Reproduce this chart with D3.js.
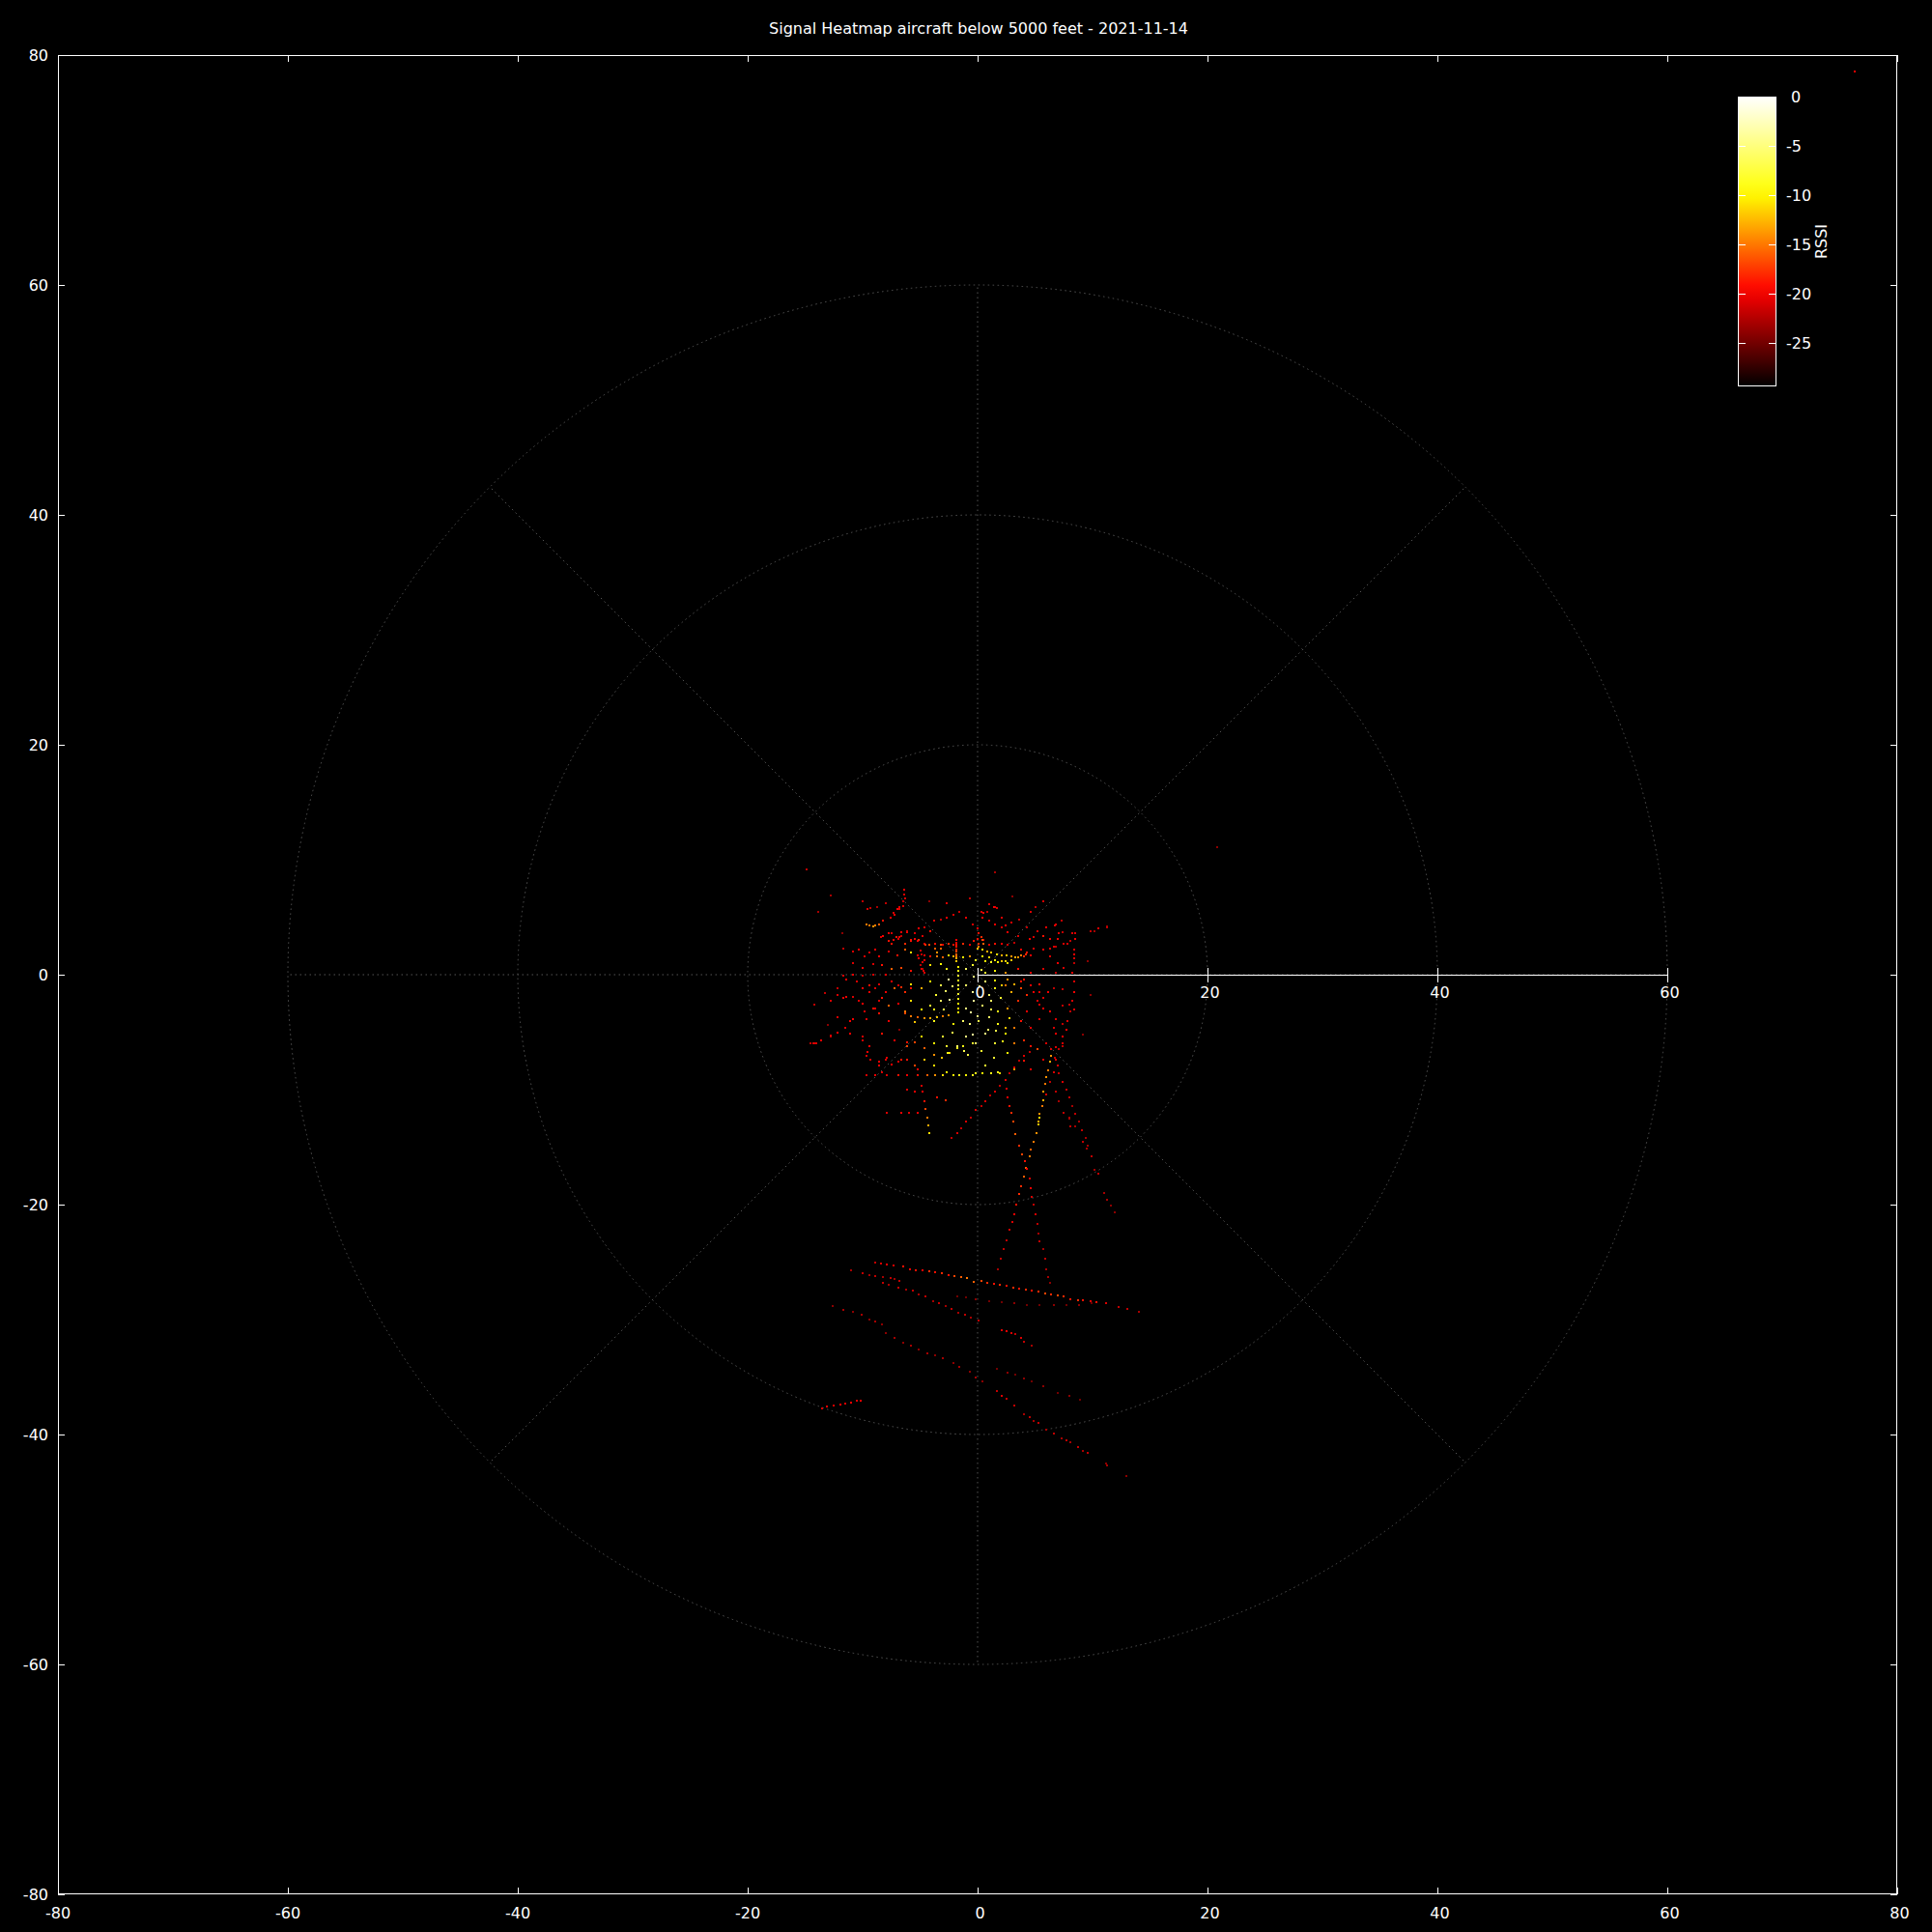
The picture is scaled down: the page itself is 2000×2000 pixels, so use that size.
<!DOCTYPE html>
<html><head><meta charset="utf-8">
<script src="https://cdn.jsdelivr.net/npm/d3@7"></script>
<style>
html,body{margin:0;padding:0;background:#000;}
svg{display:block;}
text{font-family:"DejaVu Sans",sans-serif;font-size:16px;fill:#fff;white-space:pre;}
</style>
</head><body>
<svg id="chart" width="2000" height="2000"></svg>
<script>
const titleText = "Signal Heatmap aircraft below 5000 feet - 2021-11-14";
const cbLabel = "RSSI";
const xTicks = [-80,-60,-40,-20,0,20,40,60,80];
const yTicks = [-80,-60,-40,-20,0,20,40,60,80];
const rTicks = [0,20,40,60];
const gridRadii = [20,40,60];
const spokeAngles = [0,45,90,135,180,225,270,315];
const cbTicks = [0,-5,-10,-15,-20,-25];
const cbRange = [-29.4,0];

// [x, y, rssi]
const centralPings = [
[-6.3,6.6,-21],[-2.7,6.2,-21],[-0.7,6.6,-22],[1.5,5.9,-21],[-10.0,6.4,-22],
[-9.7,4.4,-15],[-9.4,4.3,-15],[-9.1,4.2,-14],[-8.9,4.3,-15],[-8.6,4.4,-16],[-8.2,4.7,-19],[-7.6,5.0,-20],[-7.2,5.2,-20],[-6.8,5.7,-21],[-6.5,6.0,-21],
[-9.3,5.8,-22],[-8.7,5.9,-23],[-8.0,6.2,-22],
[-8.2,3.4,-20],[-7.7,2.9,-19],[-7.3,3.0,-20],[-6.8,3.3,-20],[-6.3,2.7,-18],[-5.8,2.9,-19],[-5.5,3.1,-20],[-5.1,3.0,-18],[-4.6,2.7,-20],[-4.2,2.6,-17],[-3.7,2.7,-19],[-3.2,2.3,-16],[-3.0,2.6,-20],[-2.5,2.7,-18],[-2.1,2.6,-19],
[-1.85,3.0,-20],[-1.85,2.8,-20],[-1.85,2.6,-19],[-1.85,2.4,-19],[-1.85,2.2,-18],[-1.85,2.0,-17],[-1.85,1.8,-16],[-1.85,1.6,-15],[-1.85,1.4,-13],[-1.85,1.2,-12],
[-1.7,0.7,-10],[-1.7,0.3,-9],[-1.7,-0.1,-8],[-1.7,-0.5,-9],[-1.7,-0.9,-7],[-1.7,-1.3,-9],[-1.7,-1.7,-8],[-1.7,-2.1,-9],[-1.7,-2.5,-10],[-1.7,-2.9,-11],[-1.7,-3.3,-10],
[-1.3,2.7,-18],[-0.7,2.6,-20],[-0.3,2.9,-19],[0.1,2.7,-18],[0.5,3.0,-20],[1.0,2.6,-21],[1.5,2.7,-19],[2.1,2.7,-20],[2.6,2.6,-21],[3.2,2.8,-22],[3.8,2.2,-20],[4.3,1.9,-19],[4.9,2.3,-21],[5.7,2.2,-20],[6.3,2.3,-21],[6.8,2.4,-22],[7.5,2.7,-21],[8.1,2.9,-22],
[-6.1,3.7,-20],[-5.5,3.6,-21],[-5.1,4.0,-20],[-4.6,4.1,-21],[-4.1,3.8,-19],[-3.8,4.7,-21],[-3.2,4.8,-22],[-2.7,5.0,-20],[-2.1,5.2,-21],[-1.6,5.5,-22],[-1.0,5.0,-20],[-0.4,4.4,-21],[0.4,5.0,-20],[1.0,4.7,-21],[1.5,4.4,-20],[2.1,4.1,-21],[2.6,3.7,-20],[3.5,3.4,-21],[4.3,4.1,-22],[5.2,3.8,-21],[6.0,4.1,-22],[6.8,4.4,-21],[7.4,3.7,-22],[8.5,3.6,-21],[10.2,3.8,-23],[11.3,4.2,-23],
[-7.5,3.6,-21],[-7.1,3.3,-19],[-6.6,3.4,-22],
[-9.4,1.9,-21],[-8.6,1.6,-20],[-7.7,2.0,-21],[-7.0,1.7,-19],[-6.3,2.2,-16],[-5.8,1.9,-11],[-5.2,1.7,-20],[-4.6,1.3,-20],[-4.1,1.6,-15],[-3.5,1.9,-14],[-3.0,1.5,-16],[-2.5,1.7,-11],[-2.1,1.6,-13],[-1.3,1.5,-10],[-0.7,1.6,-14],[-0.2,1.3,-9],
[0.7,1.2,-10],[1.2,1.1,-9],[1.8,1.1,-10],[2.4,1.2,-11],[2.9,1.3,-12],[3.5,1.5,-14],[4.0,1.6,-18],[4.6,1.7,-20],
[0.0,2.3,-12],[0.4,2.2,-11],[0.8,2.0,-13],[1.2,1.9,-12],[1.7,1.8,-11],[2.1,1.7,-13],[2.5,1.7,-12],[2.9,1.6,-14],[3.3,1.5,-13],[3.8,1.7,-15],[4.2,1.8,-18],[0.4,1.6,-10],[1.0,1.5,-11],[1.5,1.3,-10],[2.1,1.2,-12],[2.6,1.0,-11],
[-5.0,2.1,-21],[-4.9,1.8,-22],[-5.1,1.4,-20],[-4.8,1.1,-21],[-5.0,0.8,-22],[-4.9,0.5,-20],[-4.7,0.3,-21],
[-10.8,1.0,-21],[-10.0,0.6,-20],[-9.1,0.9,-21],[-8.3,0.8,-19],[-7.5,0.5,-16],[-6.6,0.6,-17],[-5.8,0.3,-19],[-4.1,0.8,-11],[-3.2,0.9,-10],[-2.7,0.5,-9],[-1.0,0.5,-6],[-0.4,0.8,-8],[0.7,0.2,-8],[1.5,0.3,-10],[2.4,0.2,-14],[3.5,0.5,-19],[4.6,0.2,-20],[5.7,0.5,-21],[6.8,0.2,-22],
[-13.3,-1.6,-21],[-12.2,-1.2,-22],[-11.4,-0.4,-20],[-10.5,-0.6,-21],[-10.0,-1.2,-20],[-9.4,-0.9,-19],[-8.6,-0.8,-21],[-8.0,-1.5,-20],[-7.2,-1.2,-16],[-6.6,-1.1,-18],[-5.8,-0.8,-11],[-4.9,-1.2,-13],[-4.1,-0.6,-10],[-3.2,-0.9,-7],[-2.5,-0.4,-4],[-1.0,-0.9,-6],[-0.4,-1.5,-4],[0.7,-0.6,-6],[1.5,-1.2,-9],[2.4,-0.9,-15],[2.9,-1.5,-13],[3.8,-0.6,-19],[4.6,-0.9,-20],[5.4,-1.5,-21],[6.6,-1.2,-22],
[-14.2,-2.6,-22],[-12.8,-2.3,-21],[-11.7,-2.0,-20],[-10.8,-1.9,-21],[-10.0,-2.5,-20],[-9.1,-2.9,-19],[-8.6,-2.3,-21],[-7.7,-2.7,-16],[-6.9,-2.5,-20],[-6.3,-3.2,-15],[-5.8,-2.3,-11],[-4.9,-3.0,-10],[-4.1,-2.7,-8],[-3.2,-2.3,-6],[-2.4,-2.2,-4],[-1.0,-2.9,-5],[-0.3,-2.3,-4],[0.4,-2.7,-6],[1.2,-2.3,-6],[1.8,-3.2,-9],[2.6,-2.9,-14],[3.5,-2.3,-18],[4.3,-3.2,-20],[5.4,-2.6,-21],[6.3,-3.2,-20],[7.4,-2.7,-22],
[-12.2,-3.7,-21],[-11.1,-4.0,-20],[-9.7,-3.9,-21],[-8.6,-3.4,-19],[-7.7,-4.0,-20],
[-6.3,-3.4,-17],[-5.8,-3.6,-15],[-5.2,-3.7,-16],[-4.6,-3.8,-14],[-4.1,-3.8,-13],[-3.5,-3.7,-12],[-3.0,-3.6,-15],[-2.5,-3.5,-14],
[-5.5,-4.1,-12],[-3.8,-4.0,-9],[-2.1,-4.3,-10],[-1.3,-4.0,-6],[-0.7,-4.3,-5],[0.1,-4.0,-7],[1.0,-3.7,-6],[1.8,-4.3,-9],[2.4,-4.6,-12],[3.2,-4.6,-15],[3.8,-4.0,-19],[4.6,-4.6,-20],[5.4,-3.9,-21],[6.6,-4.6,-21],[7.4,-4.3,-22],
[-14.2,-6.0,-21],[-12.8,-5.4,-22],[-11.1,-5.1,-20],[-10.0,-5.7,-21],[-9.4,-6.2,-20],[-8.3,-5.1,-19],[-7.2,-5.7,-20],[-6.1,-6.2,-17],[-4.9,-5.4,-11],[-3.8,-6.0,-10],[-2.7,-6.2,-8],[-1.8,-6.2,-6],[-1.0,-5.4,-5],[-0.2,-6.0,-6],[0.7,-5.1,-5],[1.5,-6.0,-8],[2.4,-5.1,-10],[3.2,-6.0,-15],[4.0,-5.7,-18],[4.6,-6.2,-19],[5.2,-6.5,-17],[6.0,-6.0,-21],[6.8,-5.1,-20],[7.4,-6.2,-22],
[-9.7,-7.1,-21],[-8.6,-7.9,-20],[-8.0,-7.4,-21],[-6.6,-7.4,-19],[-5.5,-7.9,-17],[-4.6,-7.4,-12],[-3.8,-7.9,-11],[-2.7,-8.5,-10],[-0.2,-8.6,-9],[0.7,-7.9,-8],[1.8,-8.5,-9],[3.2,-8.2,-14],[4.0,-7.5,-19],[4.6,-8.2,-20],[5.7,-7.4,-21],[6.6,-8.5,-20],
[-9.7,-8.7,-21],[-8.9,-8.7,-20],[-7.9,-8.7,-21],[-6.9,-8.7,-19],[-6.1,-8.7,-20],[-5.2,-8.7,-19],[-4.4,-8.7,-16],[-3.7,-8.7,-14],[-3.0,-8.7,-11],[-2.1,-8.7,-10],[-1.6,-8.7,-9],[-1.0,-8.7,-10],[-0.4,-8.7,-9],[0.4,-8.6,-10],[1.2,-8.6,-9],[1.9,-8.6,-11],
[6.3,1.6,-21],[7.0,1.0,-20],[7.5,0.6,-21],[8.2,0.2,-20],[8.4,-0.6,-21],[8.4,-1.5,-20],[8.2,-2.3,-21],[8.1,-3.2,-22],[7.8,-4.0,-21],[7.7,-4.8,-20],[7.4,-6.0,-21],[7.1,-6.5,-22],[6.8,-7.4,-21],[6.6,-8.5,-21],[6.3,-9.3,-22],[6.0,-10.4,-21],
[8.4,2.2,-21],[8.4,1.8,-20],[8.4,1.4,-21],[8.4,1.0,-22],
[-13.9,5.5,-23],[-12.8,6.9,-23],[-10.0,6.4,-22],[-9.6,5.7,-21],[-7.3,5.4,-21],[-7.0,5.7,-20],[-6.8,5.9,-21],[-6.5,6.4,-22],[-6.3,6.6,-21],[-6.4,7.0,-21],[-6.4,7.4,-20],
[-11.7,2.3,-22],[-10.8,2.0,-21],[-10.3,2.2,-20],[-9.8,1.6,-21],[-8.9,2.2,-20],[-8.4,3.3,-21],[-7.7,3.6,-20],[-7.5,2.7,-19],[-6.9,3.1,-21],[-6.6,3.7,-20],[-6.1,3.8,-21],[-5.8,3.0,-19],[-5.2,2.9,-20],[-4.8,3.4,-21],[-4.5,2.6,-18],[-3.7,2.3,-16],[-3.2,2.6,-17],[-4.6,1.7,-20],[-4.8,0.5,-22],[-4.6,0.2,-21],[-4.1,1.6,-19],[-3.5,1.6,-15],
[-11.7,-0.1,-21],[-10.8,0.0,-20],[-10.0,-0.1,-22],[-9.1,0.0,-21],[-8.0,0.0,-20],
[-13.3,-1.6,-22],[-12.2,-1.8,-21],[-11.4,-1.9,-20],[-10.3,-2.3,-21],[-9.4,-1.5,-20],[-8.9,-1.2,-21],[-8.3,-2.0,-19],[-7.5,-0.6,-20],[-6.9,-0.9,-21],[-6.3,-1.5,-18],[-5.8,-1.2,-19],
[1.5,8.9,-23],[1.0,6.1,-21],[1.4,5.9,-20],[1.7,5.8,-21],[0.3,5.5,-21],[0.5,5.4,-20],[0.8,5.5,-22],[2.1,5.0,-21],[2.4,4.3,-20],[2.9,4.5,-21],[3.6,4.8,-22],[4.6,5.5,-21],[5.0,5.9,-22],[5.7,6.4,-21],
[4.5,3.1,-20],[4.9,3.3,-21],[5.7,3.4,-19],[6.3,3.1,-20],[6.6,2.4,-21],[7.0,3.1,-20],[7.1,3.6,-21],[7.3,4.7,-22],[6.7,4.3,-21],[6.0,4.1,-20],[8.2,3.6,-21],[8.5,3.1,-20],[9.8,3.8,-22],[10.5,4.0,-21],[11.3,4.1,-22],[7.8,2.7,-21],
[0.0,4.0,-20],[0.1,3.6,-19],[0.3,3.3,-18],[0.4,3.0,-17],[0.0,3.1,-19],[0.5,2.7,-16],[0.1,2.4,-15],
[1.5,-0.5,-10],[2.1,-0.9,-12],[2.6,-0.4,-14],[3.2,-0.8,-13],[3.8,-1.2,-17],[4.0,-0.4,-19],[4.3,-1.8,-18],[4.9,-1.5,-20],[5.4,-0.8,-19],[5.7,-2.0,-21],[6.1,-1.5,-20],[7.4,-1.3,-22],
[0.2,-1.0,-5],[1.0,-1.8,-6],[-0.6,-3.3,-4],[0.9,-4.8,-6],[2.0,-2.0,-8],[-2.8,-1.4,-6],[-0.8,-7.0,-7],[1.4,-7.2,-8],[2.6,-6.8,-10],[-2.2,-5.0,-7],[0.3,0.4,-7],[-0.3,-0.2,-5],
[-2.9,-3.0,-7],[-3.6,-1.8,-8],[-2.2,-1.0,-6],[0.0,-3.6,-5],[1.6,-4.9,-7],[-0.4,-5.2,-4],[-1.2,-6.6,-7],[0.3,-6.6,-8],[2.2,-5.8,-9],[-3.0,-5.4,-8],[-2.6,-6.8,-9],[1.2,-3.0,-7],[2.8,-3.8,-11],[-3.8,-3.0,-9],
[-6.8,-4.8,-24],[-11.8,3.6,-24],[9.6,1.2,-24],[9.2,-5.2,-24],[-13.0,-4.4,-24],[3.0,6.8,-24],[-4.2,6.4,-24],[9.8,-1.8,-24]
];

const southPings = [
[-7.9,-12.0,-21],[-6.6,-12.0,-20],[-6.0,-12.0,-21],[-5.2,-12.0,-20],
[-4.9,-9.7,-21],[-4.8,-10.2,-20],[-4.6,-11.0,-19],[-4.5,-11.7,-17],[-4.4,-12.4,-15],[-4.3,-13.1,-13],[-4.2,-13.8,-11],
[-14.3,-6.0,-21],[-13.6,-5.7,-20],[-12.8,-5.3,-21],[-12.2,-5.0,-20],[-11.5,-4.6,-21],[-10.8,-3.9,-20],[-9.8,-3.2,-21],[-8.9,-2.9,-20],[-14.5,-6.0,-22],[-14.0,-6.0,-21],
[-10.0,-5.4,-21],[-9.6,-6.7,-20],[-9.3,-7.4,-21],[-8.6,-7.6,-20],[-8.3,-8.5,-21],[-7.9,-7.2,-21],[-7.5,-7.8,-20],[-6.9,-7.6,-21],[-6.1,-7.4,-19],[-5.2,-8.2,-20],[-6.1,-10.0,-21],[-5.5,-10.2,-20],[-3.5,-10.7,-19],[-2.8,-10.9,-18],[-6.1,-5.9,-19],[-5.5,-5.9,-17],[-4.6,-6.4,-16],[-3.8,-7.0,-14],[-3.1,-7.2,-12],[-2.4,-6.8,-11],[-1.8,-6.4,-9],[-1.3,-6.2,-9],[-0.4,-6.0,-8],
[-2.3,-14.2,-22],[-1.8,-13.8,-21],[-1.4,-13.4,-22],[-1.0,-12.8,-21],[-0.6,-12.4,-22],[-0.2,-11.8,-21],[0.3,-11.4,-22],[0.7,-11.0,-21],[1.1,-10.5,-22],[1.5,-10.2,-21],[1.9,-9.7,-22],[2.4,-9.2,-21],[2.8,-8.6,-22],[3.2,-8.1,-21],[3.6,-7.5,-22],[4.0,-7.1,-21],[4.5,-6.7,-22],
[6.4,-7.1,-14],[6.3,-7.6,-13],[6.1,-8.3,-15],[6.0,-8.9,-14],[5.9,-9.5,-15],[5.7,-10.2,-14],[5.7,-10.9,-13],[5.6,-11.4,-15],[5.4,-12.1,-14],[5.3,-12.8,-13],
[5.4,-12.4,-11],[5.3,-13.0,-12],[5.1,-13.8,-14],[4.9,-14.5,-15],[4.6,-15.2,-16],[4.5,-15.8,-15],[4.2,-16.8,-16],[4.0,-17.6,-16],[3.8,-18.4,-18],[3.6,-19.1,-18],[3.4,-20.0,-19],[3.2,-20.8,-20],[3.0,-21.5,-21],[2.8,-22.2,-21],[2.5,-23.1,-22],[2.3,-23.9,-22],[2.0,-24.7,-22],[1.8,-25.6,-23],
[2.5,-9.9,-21],[2.6,-10.7,-20],[2.8,-11.4,-19],[2.9,-12.0,-18],[3.1,-12.8,-17],[3.3,-13.9,-16],[3.6,-14.9,-18],[3.9,-15.6,-17],[4.1,-16.2,-19],[4.3,-16.9,-20],[4.5,-17.7,-21],[4.6,-18.6,-20],[4.7,-19.3,-21],[4.9,-20.0,-22],[5.0,-20.8,-21],[5.2,-21.7,-22],[5.3,-22.5,-23],[5.4,-23.2,-22],[5.7,-23.9,-23],[5.9,-24.7,-22],[6.0,-25.6,-23],[6.1,-26.3,-23],[6.3,-26.8,-24],
[6.4,-6.5,-21],[6.7,-7.2,-22],[7.0,-7.9,-21],[7.1,-8.6,-22],[7.4,-9.3,-21],[7.7,-10.0,-22],[8.0,-10.7,-22],[8.2,-11.4,-23],[8.5,-12.1,-22],[8.8,-12.8,-23],[9.1,-13.5,-22],[9.4,-14.2,-23],[9.6,-14.9,-23],[9.9,-15.8,-22],[10.2,-17.0,-23],[10.5,-17.3,-22],[11.0,-19.0,-23],[11.3,-19.6,-23],[11.6,-20.1,-24],[11.9,-20.7,-24],
[6.8,-6.3,-21],[8.0,-12.4,-23],[6.8,-10.2,-22],[7.1,-11.0,-23],
[5.2,-2.3,-21],[5.7,-2.9,-20],[6.8,-3.9,-21],[7.4,-5.4,-20],[8.0,-2.6,-22],[8.4,-3.0,-21],
[7.5,-12.0,-22],[8.0,-12.5,-23],[8.1,-13.2,-22],[8.5,-13.2,-23],[9.2,-14.5,-22],[9.5,-15.1,-23]
];

const farPings = [
[-8.9,-25.0,-22],[-8.4,-25.1,-21],[-7.9,-25.2,-20],[-7.3,-25.3,-21],[-6.5,-25.4,-19],[-5.9,-25.6,-20],[-5.4,-25.7,-19],[-4.8,-25.7,-20],[-4.2,-25.8,-18],[-3.7,-25.9,-19],[-3.1,-26.0,-18],[-2.5,-26.1,-19],[-2.0,-26.2,-17],[-1.4,-26.3,-16],[-0.9,-26.4,-15],[-0.3,-26.7,-16],[0.3,-26.6,-17],[0.8,-26.8,-18],[1.4,-26.9,-19],[1.9,-27.0,-18],[2.5,-27.1,-19],[3.1,-27.2,-18],[3.6,-27.3,-19],[4.2,-27.4,-18],[4.7,-27.5,-19],[5.3,-27.6,-18],[5.9,-27.7,-17],[6.4,-27.8,-18],[7.0,-27.9,-17],[7.5,-28.0,-18],[8.1,-28.2,-19],[8.7,-28.3,-18],[9.2,-28.3,-19],[9.8,-28.4,-20],[10.3,-28.5,-19],[11.2,-28.6,-21],[12.3,-28.9,-22],[13.0,-29.1,-22],[14.0,-29.3,-23],
[-11.0,-25.7,-23],[-10.0,-26.0,-22],[-9.4,-26.1,-23],[-8.9,-26.2,-22],[-8.2,-26.3,-23],[-7.6,-26.4,-22],[-7.2,-26.5,-23],[-6.8,-26.6,-22],
[-8.2,-26.8,-22],[-7.7,-27.0,-23],[-6.9,-27.2,-22],[-6.2,-27.4,-23],[-5.6,-27.5,-22],[-5.1,-27.8,-23],[-4.5,-28.0,-22],[-3.9,-28.4,-23],[-3.4,-28.6,-22],[-2.8,-28.8,-23],[-2.3,-29.1,-22],[-1.7,-29.4,-23],[-1.1,-29.6,-22],[-0.6,-29.8,-23],[0.1,-30.1,-22],
[-1.8,-28.0,-25],[-1.0,-28.1,-25],[-0.2,-28.2,-24],[1.0,-28.4,-25],[2.1,-28.5,-25],[3.2,-28.6,-24],[4.3,-28.7,-25],[5.4,-28.7,-25],[6.6,-28.7,-24],[7.7,-28.7,-25],[8.8,-28.7,-24],[9.9,-28.6,-25],
[-12.6,-28.8,-24],[-11.7,-29.2,-23],[-10.8,-29.3,-24],[-10.1,-29.6,-23],[-9.4,-30.0,-24],[-8.9,-30.2,-23],[-8.3,-30.4,-24],
[-8.0,-31.2,-24],[-7.2,-31.6,-23],[-6.5,-32.0,-24],[-5.8,-32.3,-23],[-5.1,-32.6,-24],[-4.4,-32.9,-23],[-3.7,-33.1,-24],[-3.0,-33.4,-23],[-2.1,-33.8,-24],[-1.6,-34.1,-23],[-0.7,-34.5,-24],[-0.2,-35.0,-23],[0.4,-35.4,-24],
[2.1,-30.9,-21],[2.5,-31.0,-20],[2.9,-31.2,-21],[3.3,-31.3,-22],[3.8,-31.6,-21],[4.0,-31.9,-22],[4.7,-32.3,-23],
[1.7,-34.3,-25],[2.6,-34.6,-24],[3.3,-34.8,-25],[4.0,-35.1,-24],[4.7,-35.4,-25],[5.7,-35.8,-24],[7.0,-36.4,-25],[8.0,-36.6,-24],[8.9,-37.0,-25],
[1.7,-36.2,-22],[2.1,-36.6,-21],[2.5,-36.9,-22],[3.2,-37.5,-22],[4.0,-38.2,-23],[4.5,-38.5,-22],[4.9,-38.8,-23],[5.3,-39.0,-22],[6.0,-39.6,-23],[6.6,-39.9,-22],[7.3,-40.3,-23],[7.7,-40.5,-22],[8.1,-40.7,-23],[8.7,-41.1,-22],[9.2,-41.4,-23],[9.6,-41.6,-22],
[-13.5,-37.7,-21],[-13.1,-37.6,-20],[-12.5,-37.5,-21],[-11.9,-37.4,-20],[-11.5,-37.3,-21],[-11.0,-37.2,-20],[-10.5,-37.1,-21],[-10.2,-37.1,-20],
[11.2,-42.5,-24],[11.3,-42.7,-23],[12.9,-43.6,-24],
[20.8,11.1,-24],[76.3,78.6,-20],[-14.9,9.2,-22]
];

const pings = centralPings.concat(southPings, farPings);

const svg = d3.select("#chart");
svg.append("rect").attr("width",2000).attr("height",2000).attr("fill","#000");

const x = d3.scaleLinear().domain([-80,80]).range([60,1964]);
const y = d3.scaleLinear().domain([-80,80]).range([1961,57]);
const cbY = d3.scaleLinear().domain(cbRange).range([400,100]);
const cMin = cbRange[0], cMax = cbRange[1], cSpan = cMax - cMin;
const color = d3.scaleLinear()
  .domain([cMin, cMin + cSpan/3, cMin + 2*cSpan/3, cMax])
  .range(["#000000","#ff0000","#ffff00","#ffffff"]).clamp(true);
const fmt = v => (v >= 0 ? " " : "") + v;

// title
svg.append("text").attr("x",1013).attr("y",35).attr("text-anchor","middle").text(titleText);

// polar grid
const gGrid = svg.append("g").attr("fill","none").attr("stroke","#555").attr("stroke-width",1).attr("stroke-dasharray","1.5,3.5");
gGrid.selectAll("circle").data(gridRadii).join("circle")
  .attr("cx", x(0)).attr("cy", y(0)).attr("r", d => x(d) - x(0));
const rMax = d3.max(gridRadii);
gGrid.selectAll("line").data(spokeAngles).join("line")
  .attr("x1", x(0)).attr("y1", y(0))
  .attr("x2", d => x(rMax*Math.cos(d*Math.PI/180)))
  .attr("y2", d => y(rMax*Math.sin(d*Math.PI/180)));

// points
const s = 2;
svg.append("g").attr("shape-rendering","crispEdges").selectAll("rect").data(pings).join("rect")
  .attr("x", d => Math.round(x(d[0]) - s/2)).attr("y", d => Math.round(y(d[1]) - s/2))
  .attr("width", s).attr("height", s).attr("fill", d => color(d[2]));

// border
const gAx = svg.append("g");
gAx.append("rect").attr("x",x(-80)+0.5).attr("y",y(80)+0.5)
  .attr("width",x(80)-x(-80)-1).attr("height",y(-80)-y(80)-1)
  .attr("fill","none").attr("stroke","#fff").attr("stroke-width",1);
const tk = 7;
gAx.selectAll("line.xb").data(xTicks).join("line").attr("class","xb")
  .attr("x1",d=>Math.round(x(d))+0.5).attr("x2",d=>Math.round(x(d))+0.5)
  .attr("y1",y(-80)).attr("y2",y(-80)-tk).attr("stroke","#fff");
gAx.selectAll("line.xt").data(xTicks).join("line").attr("class","xt")
  .attr("x1",d=>Math.round(x(d))+0.5).attr("x2",d=>Math.round(x(d))+0.5)
  .attr("y1",y(80)).attr("y2",y(80)+tk).attr("stroke","#fff");
gAx.selectAll("line.yl").data(yTicks).join("line").attr("class","yl")
  .attr("y1",d=>Math.round(y(d))+0.5).attr("y2",d=>Math.round(y(d))+0.5)
  .attr("x1",x(-80)).attr("x2",x(-80)+tk).attr("stroke","#fff");
gAx.selectAll("line.yr").data(yTicks).join("line").attr("class","yr")
  .attr("y1",d=>Math.round(y(d))+0.5).attr("y2",d=>Math.round(y(d))+0.5)
  .attr("x1",x(80)).attr("x2",x(80)-tk).attr("stroke","#fff");
gAx.selectAll("text.xl").data(xTicks).join("text").attr("class","xl")
  .attr("x",d=>x(d)).attr("y",y(-80)+25).attr("text-anchor","middle").text(fmt);
gAx.selectAll("text.yl").data(yTicks).join("text").attr("class","yl")
  .attr("x",x(-80)-10).attr("y",d=>y(d)+6).attr("text-anchor","end").text(fmt);

// r axis
const rAx = svg.append("g");
rAx.append("line").attr("x1",x(0)).attr("x2",x(rMax)).attr("y1",Math.round(y(0))+0.5).attr("y2",Math.round(y(0))+0.5).attr("stroke","#fff");
rAx.selectAll("line.rt").data(rTicks).join("line").attr("class","rt")
  .attr("x1",d=>Math.round(x(d))+0.5).attr("x2",d=>Math.round(x(d))+0.5)
  .attr("y1",y(0)-7).attr("y2",y(0)+8).attr("stroke","#fff");
rAx.selectAll("text").data(rTicks).join("text")
  .attr("x",d=>x(d)).attr("y",y(0)+24).attr("text-anchor","middle").text(fmt);

// colorbar
const defs = svg.append("defs");
const grad = defs.append("linearGradient").attr("id","cbgrad").attr("x1",0).attr("x2",0).attr("y1",1).attr("y2",0);
d3.range(0,1.0001,0.05).forEach(t => {
  grad.append("stop").attr("offset",t).attr("stop-color",color(cMin + t*cSpan));
});
const cbx0 = 1799, cbx1 = 1839;
svg.append("rect").attr("x",cbx0).attr("y",cbY(cMax)).attr("width",cbx1-cbx0).attr("height",cbY(cMin)-cbY(cMax))
  .attr("fill","url(#cbgrad)");
svg.append("rect").attr("x",cbx0+0.5).attr("y",cbY(cMax)+0.5).attr("width",cbx1-cbx0-1).attr("height",cbY(cMin)-cbY(cMax)-1)
  .attr("fill","none").attr("stroke","#fff");
const cbG = svg.append("g");
cbG.selectAll("line.cl").data(cbTicks).join("line").attr("class","cl")
  .attr("x1",cbx0).attr("x2",cbx0+8).attr("y1",d=>Math.round(cbY(d))+0.5).attr("y2",d=>Math.round(cbY(d))+0.5).attr("stroke","#fff");
cbG.selectAll("line.cr").data(cbTicks).join("line").attr("class","cr")
  .attr("x1",cbx1-8).attr("x2",cbx1).attr("y1",d=>Math.round(cbY(d))+0.5).attr("y2",d=>Math.round(cbY(d))+0.5).attr("stroke","#fff");
cbG.selectAll("text").data(cbTicks).join("text")
  .attr("x",1849).attr("y",d=>cbY(d)+6).attr("text-anchor","start").text(fmt);
svg.append("text").attr("transform","translate(1891,250) rotate(-90)").attr("text-anchor","middle").text(cbLabel);
</script>
</body></html>
